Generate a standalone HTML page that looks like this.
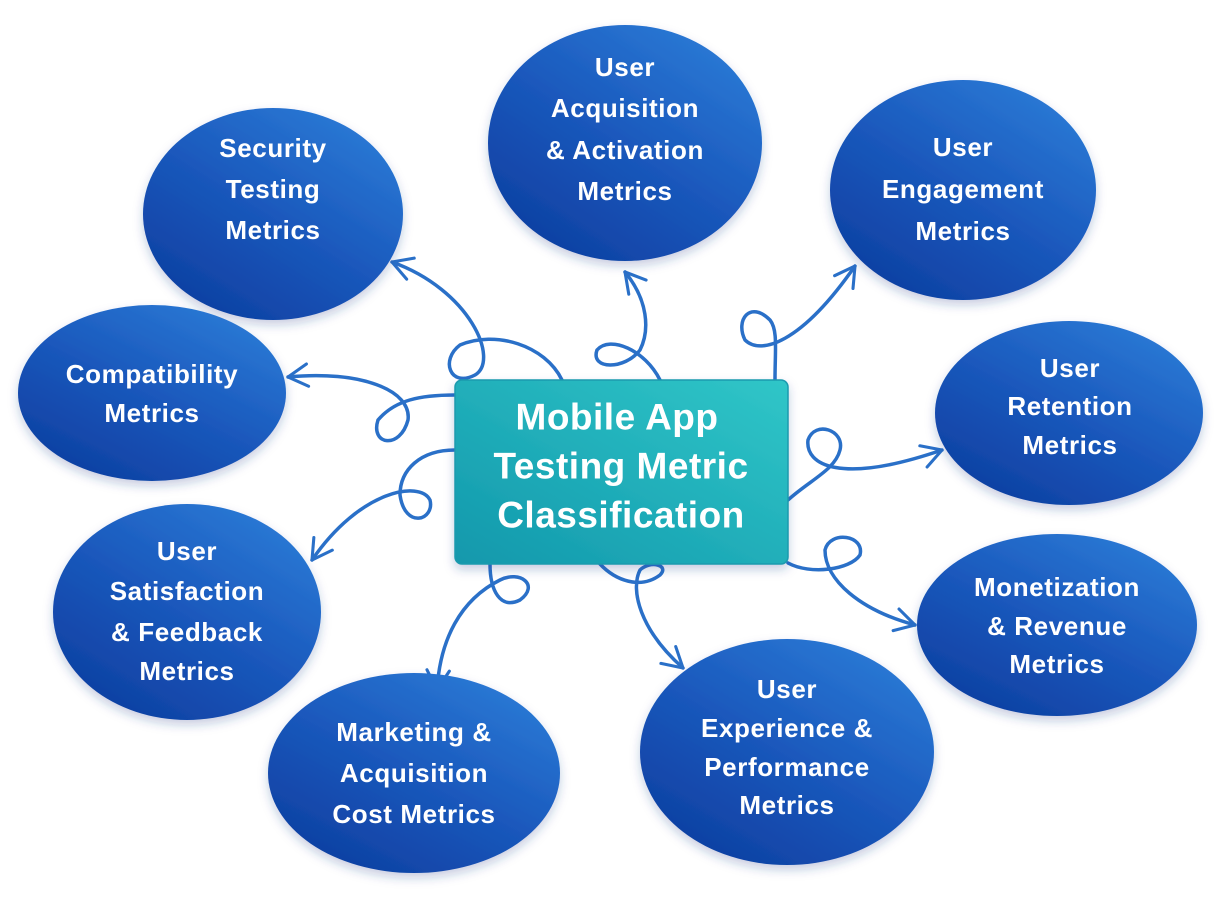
<!DOCTYPE html>
<html><head><meta charset="utf-8"><style>
html,body{margin:0;padding:0;background:#fff;}
svg{display:block;}
text{font-family:"Liberation Sans",sans-serif;fill:#fff;text-anchor:middle;dominant-baseline:central;}
.n{font-size:26px;font-weight:bold;letter-spacing:0.6px;}
.c{font-size:37px;font-weight:bold;letter-spacing:0.5px;}
.cn{fill:none;stroke:#2a70c8;stroke-width:3.5;stroke-linecap:round;}
</style></head><body>
<svg width="1221" height="899" viewBox="0 0 1221 899" xmlns="http://www.w3.org/2000/svg">
<defs>
<linearGradient id="eg" x1="0.85" y1="0.1" x2="0.2" y2="0.95">
<stop offset="0" stop-color="#2a78d4"/><stop offset="0.5" stop-color="#1a58bc"/><stop offset="1" stop-color="#0e40a2"/>
</linearGradient>
<linearGradient id="tg" x1="1" y1="0" x2="0" y2="1">
<stop offset="0" stop-color="#30c6c8"/><stop offset="1" stop-color="#1298ac"/>
</linearGradient>
<filter id="sh" x="-20%" y="-20%" width="140%" height="150%"><feDropShadow dx="0" dy="5" stdDeviation="5" flood-color="#1a3f8a" flood-opacity="0.25"/></filter>
<marker id="ar" viewBox="0 0 20 20" refX="16" refY="10" markerWidth="8" markerHeight="8" orient="auto" markerUnits="strokeWidth">
<path d="M2,2 L16,10 L2,18" fill="none" stroke="#2a70c8" stroke-width="2.2" stroke-linecap="round" stroke-linejoin="round"/>
</marker>
</defs>

<g class="cn" marker-end="url(#ar)">
<path d="M562,380 C545,345 495,330 460,345 C440,360 450,388 475,375 C500,360 470,290 392,262"/>
<path d="M660,380 C645,350 610,335 597,350 C590,370 625,370 640,350 C650,330 648,300 625,272"/>
<path d="M775,380 C775,350 778,330 770,320 C750,300 735,320 745,340 C760,355 800,345 855,266"/>
<path d="M455,395 C420,395 395,400 378,420 C370,445 400,450 408,420 C412,390 360,370 288,377"/>
<path d="M788,500 C810,480 835,470 840,450 C845,430 815,420 808,440 C805,465 840,485 942,450"/>
<path d="M455,450 C420,450 400,470 400,495 C405,530 435,520 430,500 C420,480 360,490 312,560"/>
<path d="M788,563 C810,575 850,570 860,555 C865,535 830,530 825,550 C825,580 860,610 915,625"/>
<path d="M490,564 C490,590 500,610 520,600 C540,585 520,570 500,580 C460,600 440,640 437,690"/>
<path d="M600,564 C615,580 640,590 660,575 C670,565 650,560 640,570 C630,590 640,630 683,668"/>
</g>

<g fill="url(#eg)" filter="url(#sh)">
<ellipse cx="273" cy="214" rx="130" ry="106"/>
<ellipse cx="625" cy="143" rx="137" ry="118"/>
<ellipse cx="963" cy="190" rx="133" ry="110"/>
<ellipse cx="152" cy="393" rx="134" ry="88"/>
<ellipse cx="1069" cy="413" rx="134" ry="92"/>
<ellipse cx="187" cy="612" rx="134" ry="108"/>
<ellipse cx="1057" cy="625" rx="140" ry="91"/>
<ellipse cx="414" cy="773" rx="146" ry="100"/>
<ellipse cx="787" cy="752" rx="147" ry="113"/>
</g>

<rect x="455" y="380" width="333" height="184" rx="7" fill="url(#tg)" stroke="#1a9aae" stroke-width="1.5" filter="url(#sh)"/>

<g class="n">
<text x="273" y="148">Security</text><text x="273" y="189">Testing</text><text x="273" y="230">Metrics</text>
<text x="625" y="67">User</text><text x="625" y="108">Acquisition</text><text x="625" y="150">&amp; Activation</text><text x="625" y="191">Metrics</text>
<text x="963" y="147">User</text><text x="963" y="189">Engagement</text><text x="963" y="231">Metrics</text>
<text x="152" y="374">Compatibility</text><text x="152" y="413">Metrics</text>
<text x="1070" y="368">User</text><text x="1070" y="406">Retention</text><text x="1070" y="445">Metrics</text>
<text x="187" y="551">User</text><text x="187" y="591">Satisfaction</text><text x="187" y="632">&amp; Feedback</text><text x="187" y="671">Metrics</text>
<text x="1057" y="587">Monetization</text><text x="1057" y="626">&amp; Revenue</text><text x="1057" y="664">Metrics</text>
<text x="414" y="732">Marketing &amp;</text><text x="414" y="773">Acquisition</text><text x="414" y="814">Cost Metrics</text>
<text x="787" y="689">User</text><text x="787" y="728">Experience &amp;</text><text x="787" y="767">Performance</text><text x="787" y="805">Metrics</text>
</g>
<g class="c">
<text x="617" y="417">Mobile App</text><text x="621" y="466">Testing Metric</text><text x="621" y="515">Classification</text>
</g>
</svg>
</body></html>
